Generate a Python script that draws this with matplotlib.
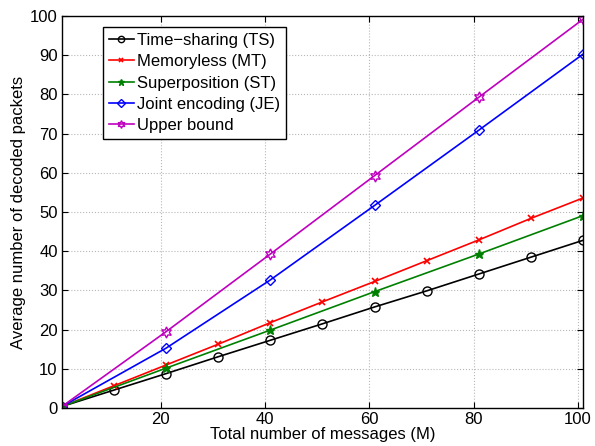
import matplotlib

matplotlib.use("Agg")
import matplotlib.pyplot as plt  # noqa: E402

plt.rcParams["font.family"] = ["Liberation Sans", "DejaVu Sans"]

# data
x_dense = [1, 11, 21, 31, 41, 51, 61, 71, 81, 91, 101]
x_sparse = [1, 21, 41, 61, 81, 101]
ts = [0.4, 4.6, 8.8, 13.1, 17.3, 21.5, 25.8, 29.9, 34.2, 38.5, 42.8]
mt = [0.4, 5.7, 11.0, 16.3, 21.8, 27.1, 32.3, 37.6, 42.9, 48.4, 53.6]
st = [0.4, 10.2, 19.9, 29.7, 39.3, 49.1]
je = [0.4, 15.3, 32.7, 51.7, 70.9, 90.3]
ub = [0.4, 19.5, 39.3, 59.3, 79.3, 99.2]

labels = ["Time\u2212sharing (TS)", "Memoryless (MT)", "Superposition (ST)",
          "Joint encoding (JE)", "Upper bound"]

fig = plt.figure(figsize=(5.95, 4.46), dpi=100)
ax = fig.add_axes([0.104, 0.085, 0.876, 0.879])

ax.plot(x_dense, ts, color="k", marker="o", mfc="none", ms=6.5, lw=1.2,
        label=labels[0])
ax.plot(x_dense, mt, color="r", marker="x", ms=5, mew=1.2, lw=1.2,
        label=labels[1])
ax.plot(x_sparse, st, color="#008000", marker="*", ms=6.5, lw=1.2,
        label=labels[2])
ax.plot(x_sparse, je, color="b", marker="D", mfc="none", ms=5.5, lw=1.2,
        label=labels[3])
ax.plot(x_sparse, ub, color="#bf00bf", marker=(6, 1, 0), mfc="none", ms=8,
        lw=1.2, label=labels[4])

ax.set_xlim(1, 101)
ax.set_ylim(0, 100)
ax.set_xticks([20, 40, 60, 80, 100])
ax.set_yticks(range(0, 101, 10))
ax.tick_params(direction="in", top=True, right=True, labelsize=12, length=4,
               pad=3)
ax.grid(True, ls=":", color="#b8b8b8", lw=0.8)
for sp in ax.spines.values():
    sp.set_linewidth(1.0)

ax.set_xlabel("Total number of messages (M)", fontsize=12, labelpad=0)
ax.set_ylabel("Average number of decoded packets", fontsize=12, labelpad=3)

leg = ax.legend(loc="upper left", bbox_to_anchor=(0.079, 0.972),
                borderaxespad=0, fontsize=12, fancybox=False, framealpha=1,
                edgecolor="k", handlelength=1.5, handletextpad=0.2,
                labelspacing=0.38, borderpad=0.35, markerscale=0.7)
leg.get_frame().set_linewidth(1.0)

fig.savefig("out.png", dpi=100)
plt.close(fig)
